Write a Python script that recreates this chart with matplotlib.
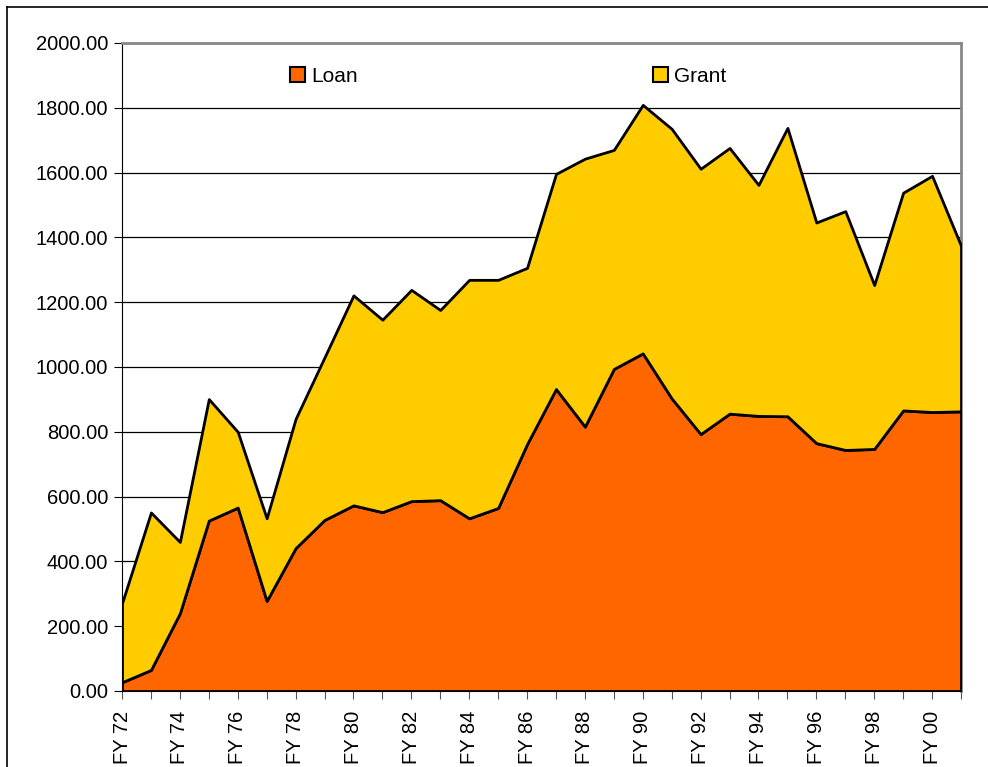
import matplotlib
matplotlib.use("Agg")
import matplotlib.pyplot as plt
from matplotlib.lines import Line2D
from matplotlib.patches import Patch
import numpy as np

plt.rcParams['font.family'] = ['Liberation Sans', 'DejaVu Sans']

years = list(range(1972, 2002))
loan = [27, 65, 240, 526, 566, 278, 441, 528, 573, 552,
        586, 589, 533, 565, 762, 932, 816, 994, 1042, 903,
        793, 856, 849, 848, 765, 744, 747, 866, 861, 863]
total = [271, 551, 460, 901, 800, 533, 840, 1030, 1221, 1146,
         1238, 1176, 1269, 1269, 1306, 1596, 1643, 1670, 1809, 1735,
         1612, 1676, 1562, 1738, 1446, 1481, 1253, 1538, 1590, 1374]
grant = [t - l for t, l in zip(total, loan)]
labels = ["FY %02d" % (y % 100) for y in years]

loan_color = "#FF6600"
grant_color = "#FFCC00"

fig = plt.figure(figsize=(9.88, 7.67), dpi=100)
ax = fig.add_axes([122 / 988, 1 - 691 / 767, (961 - 122) / 988, (691 - 43) / 767])

x = np.arange(len(years))
ax.stackplot(x, loan, grant, colors=[loan_color, grant_color],
             edgecolor="black", linewidth=2, zorder=3)

ax.set_xlim(0, len(years) - 1)
ax.set_ylim(0, 2000)
ax.set_yticks(np.arange(0, 2001, 200))
ax.set_yticklabels(["%.2f" % v for v in np.arange(0, 2001, 200)])
ax.yaxis.grid(True, color="black", linewidth=0.9, zorder=1)
ax.set_axisbelow(True)

ax.set_xticks(x)
ax.set_xticklabels([lab if i % 2 == 0 else "" for i, lab in enumerate(labels)],
                   rotation=90)
ax.tick_params(axis="x", direction="out", length=6, color="#555555",
               labelsize=14.5, pad=8)
ax.tick_params(axis="y", direction="out", length=6, color="black",
               labelsize=14.5, pad=4)

for side in ["top", "right"]:
    ax.spines[side].set_color("#888888")
    ax.spines[side].set_linewidth(2)
ax.spines["left"].set_color("black")
ax.spines["bottom"].set_color("black")

handles = [Patch(facecolor=loan_color, edgecolor="black", linewidth=1.5, label="Loan"),
           Patch(facecolor=grant_color, edgecolor="black", linewidth=1.5, label="Grant")]
ax.legend(handles=handles, ncol=2, frameon=False, fontsize=15,
          loc="center left", bbox_to_anchor=(168 / 839, 1 - 33 / 648),
          handlelength=0.7, handleheight=0.7, handletextpad=0.3,
          columnspacing=14.2, borderaxespad=0, borderpad=0)

# outer chart border (clipped by the image on right and bottom)
fig.add_artist(Line2D([7 / 988, 1], [1 - 7 / 767, 1 - 7 / 767],
                      transform=fig.transFigure, color="black", linewidth=1.2))
fig.add_artist(Line2D([7 / 988, 7 / 988], [0, 1 - 7 / 767],
                      transform=fig.transFigure, color="black", linewidth=1.2))

fig.savefig("out.png", dpi=100)
